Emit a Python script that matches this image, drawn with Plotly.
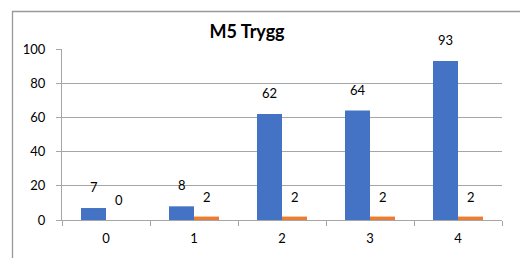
import plotly.graph_objects as go

categories = ["0", "1", "2", "3", "4"]
series_a = [7, 8, 62, 64, 93]
series_b = [0, 2, 2, 2, 2]
y_ticks = [0, 20, 40, 60, 80, 100]
title_text = "M5 Trygg"

BLUE = "#4472C4"
ORANGE = "#ED7D31"
GRID = "#a6a6a6"
FONT = "Lato, Carlito, Calibri, sans-serif"

fig = go.Figure()
fig.add_trace(go.Bar(x=categories, y=series_a, marker=dict(color=BLUE, line=dict(width=0)), name="A"))
fig.add_trace(go.Bar(x=categories, y=series_b, marker=dict(color=ORANGE, line=dict(width=0)), name="B"))

annotations = []
for c, a, b in zip(categories, series_a, series_b):
    annotations.append(dict(x=c, y=a, xref="x", yref="y", text=str(a), showarrow=False,
                            xshift=-12.5, yshift=21, yanchor="middle",
                            font=dict(family=FONT, size=13, color="#000")))
    annotations.append(dict(x=c, y=b, xref="x", yref="y", text=str(b), showarrow=False,
                            xshift=12.5, yshift=20, yanchor="middle",
                            font=dict(family=FONT, size=13, color="#000")))

L, R, T, B = 62, 18, 49, 38
W, H = 520, 258
pw, ph = W - L - R, H - T - B

def px_x(p):
    return (p - L) / pw

def px_y(p):
    return (H - B - p) / ph

fig.update_layout(
    width=W, height=H,
    margin=dict(l=L, r=R, t=T, b=B, pad=0, autoexpand=False),
    paper_bgcolor="white", plot_bgcolor="white",
    showlegend=False,
    barmode="group", bargap=0.432, bargroupgap=0,
    title=dict(text="<b>" + title_text + "</b>", x=247 / W, xanchor="center",
               y=1 - 32 / H, yanchor="middle", font=dict(family=FONT, size=18, color="#000")),
    font=dict(family=FONT, size=13, color="#000"),
    annotations=annotations,
    shapes=[dict(type="rect", xref="paper", yref="paper",
                 x0=px_x(12.5), x1=px_x(540), y0=px_y(11.5), y1=px_y(280),
                 line=dict(color="#999999", width=1.3), fillcolor="rgba(0,0,0,0)", layer="below")],
    xaxis=dict(type="category", showgrid=False, showline=True, linecolor=GRID, linewidth=1,
               ticks="outside", ticklen=5, tickcolor=GRID, tickson="boundaries", automargin=False,
               tickfont=dict(family=FONT, size=13, color="#000"), ticklabelstandoff=6),
    yaxis=dict(range=[0, 100], tickvals=y_ticks, showgrid=True, gridcolor=GRID, gridwidth=1,
               showline=True, linecolor=GRID, linewidth=1, ticks="outside", ticklen=5,
               tickcolor=GRID, zeroline=False, automargin=False,
               tickfont=dict(family=FONT, size=13, color="#000"), ticklabelstandoff=8),
)

fig.write_html("out.html", config={"displayModeBar": False},
               post_script="document.body.style.margin='0';document.body.style.overflow='hidden';")
